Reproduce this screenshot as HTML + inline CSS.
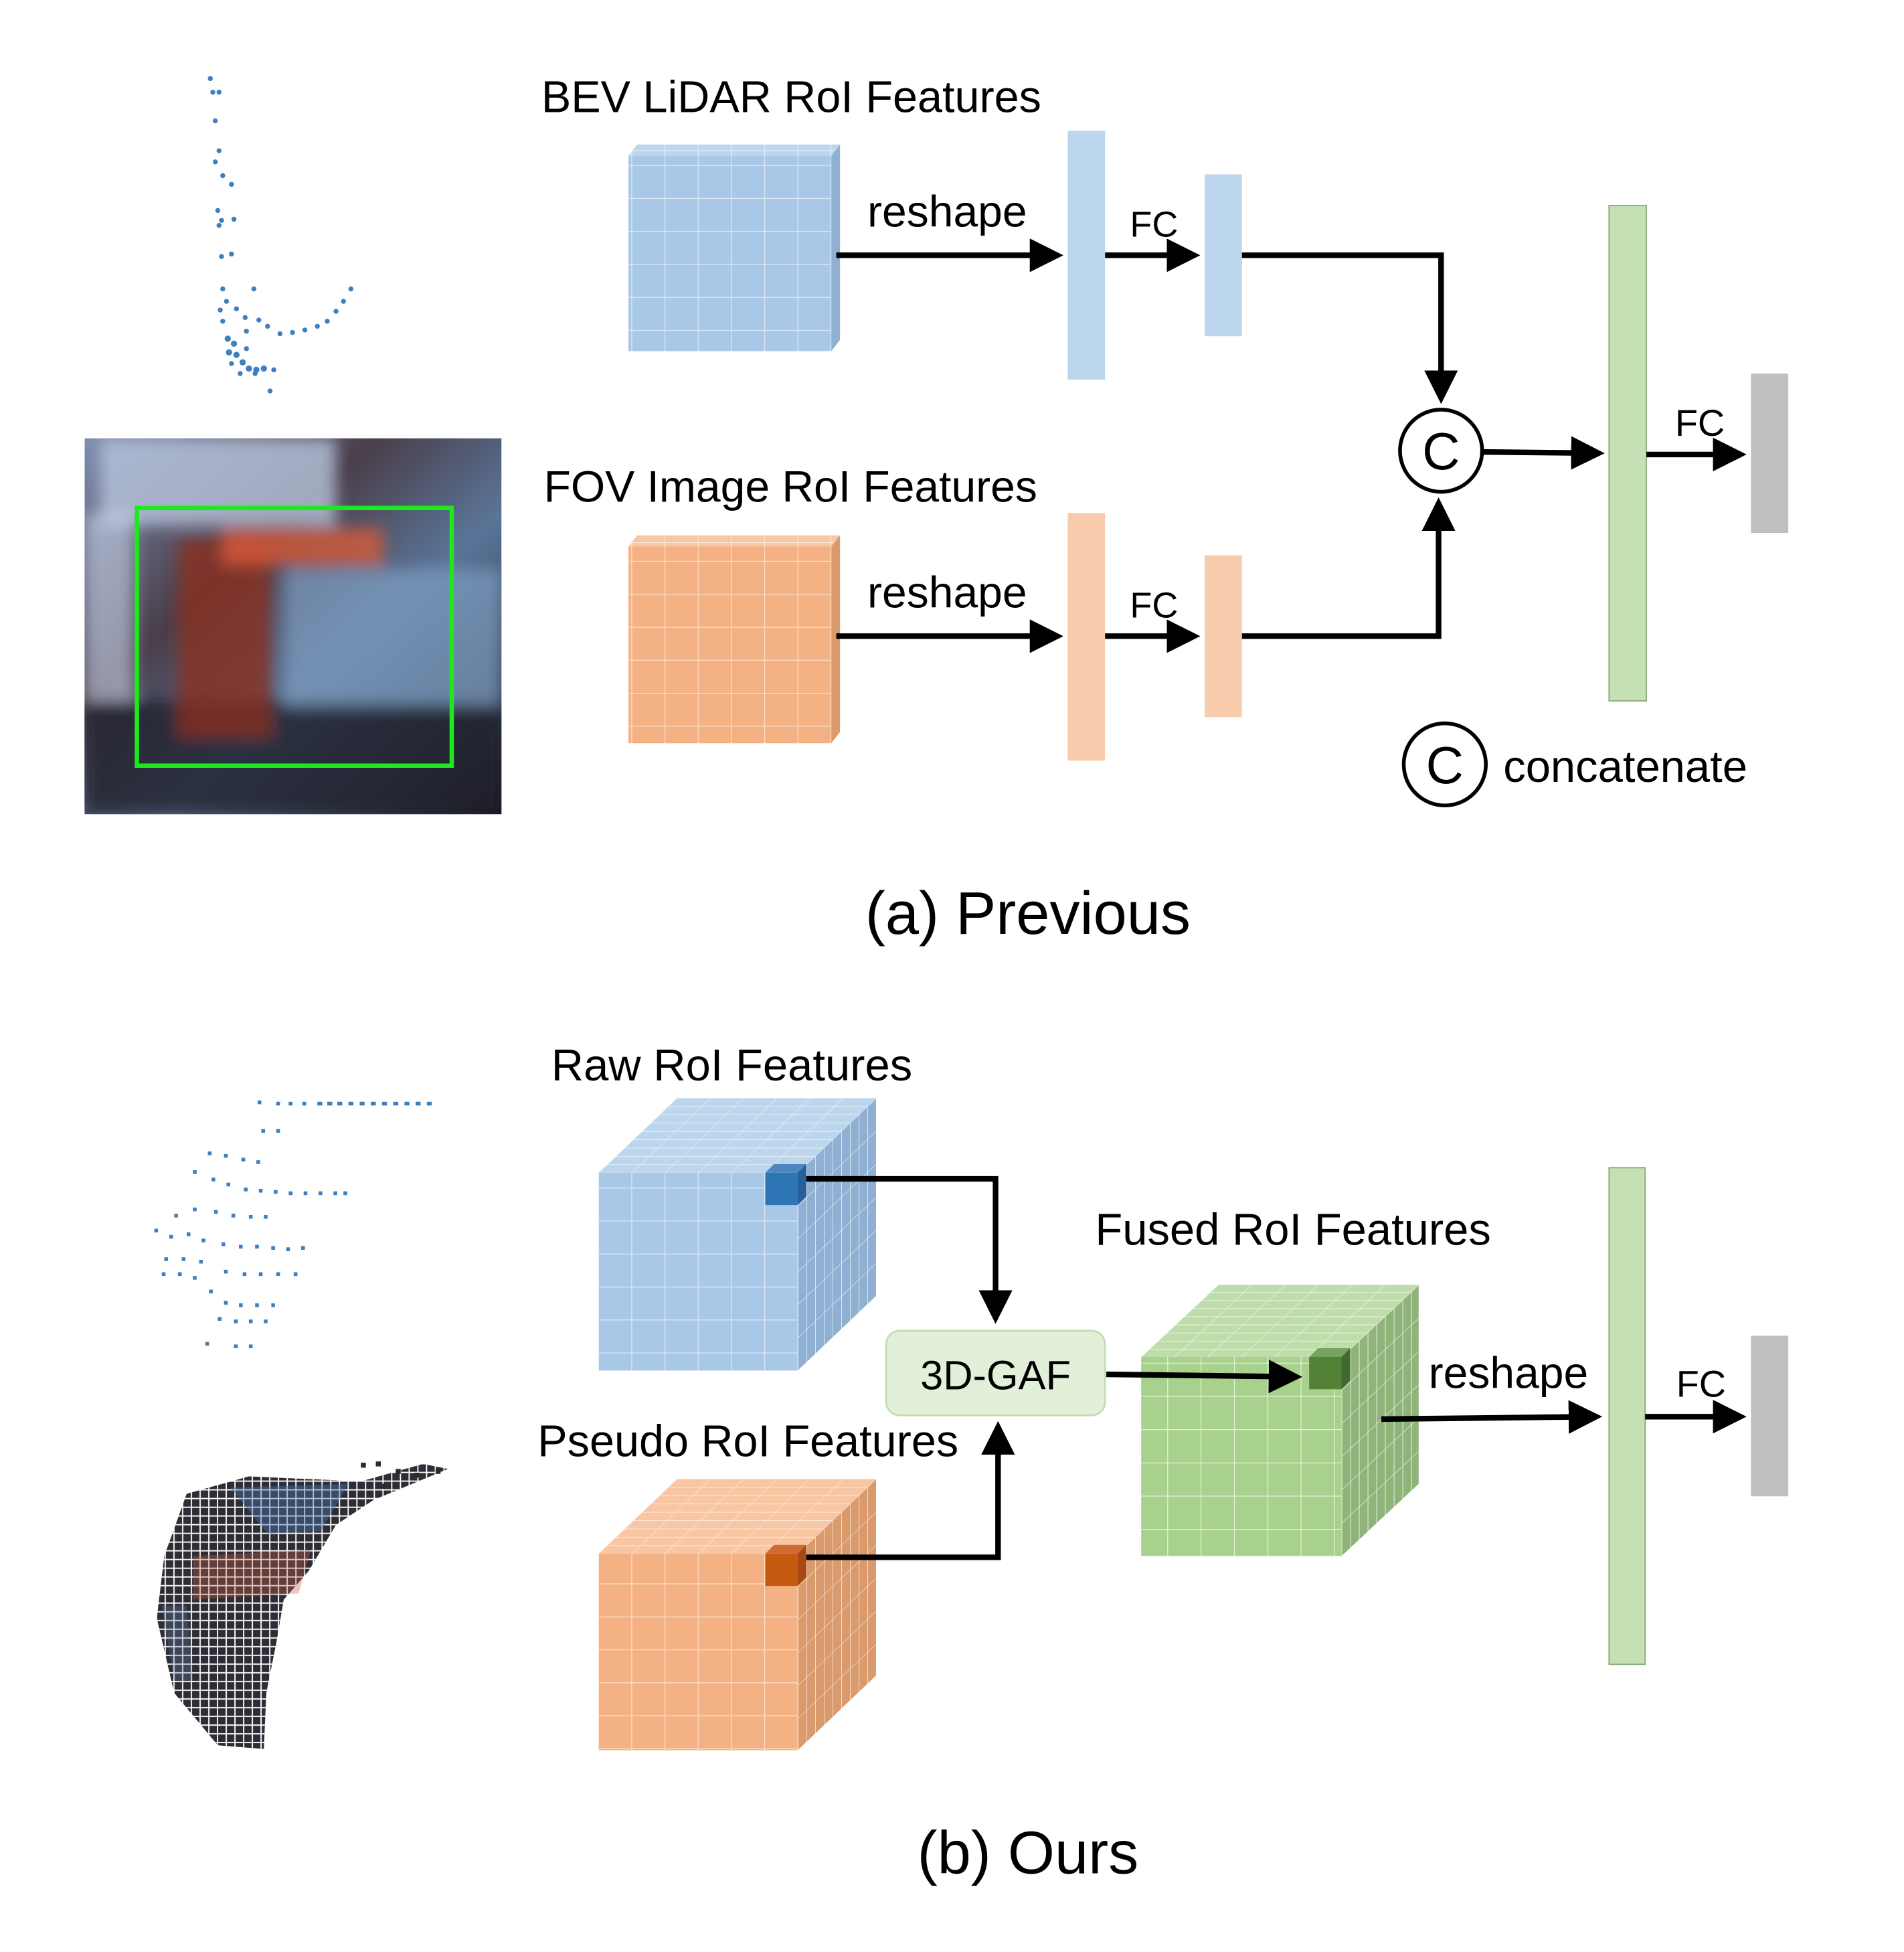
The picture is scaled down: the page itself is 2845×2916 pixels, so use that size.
<!DOCTYPE html>
<html><head><meta charset="utf-8"><style>
html,body{margin:0;padding:0;background:#fff}
svg{display:block}
text{font-family:"Liberation Sans",sans-serif;fill:#000}
</style></head><body>
<svg width="2845" height="2916" viewBox="0 0 1530 1568" xmlns="http://www.w3.org/2000/svg">
<defs>
<pattern id="gb" patternUnits="userSpaceOnUse" width="26.7" height="26.5"><rect width="26.7" height="26.5" fill="#a9c8e8"/><path d="M0 0H26.7M0 0V26.5" stroke="#dde9f6" stroke-width="1.3"/></pattern>
<pattern id="go" patternUnits="userSpaceOnUse" width="26.7" height="26.5"><rect width="26.7" height="26.5" fill="#f4b183"/><path d="M0 0H26.7M0 0V26.5" stroke="#fbe0cc" stroke-width="1.3"/></pattern>
<pattern id="gg" patternUnits="userSpaceOnUse" width="26.8" height="26.7"><rect width="26.8" height="26.7" fill="#a9d18e"/><path d="M0 0H26.8M0 0V26.7" stroke="#e4f2da" stroke-width="1.3"/></pattern>
<pattern id="sb" patternUnits="userSpaceOnUse" width="7" height="26.5"><rect width="7" height="26.5" fill="#8fb0d2"/><path d="M0 0H7M0 0V26.5" stroke="#d6e4f2" stroke-width="1.2"/></pattern>
<pattern id="so" patternUnits="userSpaceOnUse" width="7" height="26.5"><rect width="7" height="26.5" fill="#d99a6c"/><path d="M0 0H7M0 0V26.5" stroke="#f6d6c0" stroke-width="1.2"/></pattern>
<pattern id="sg" patternUnits="userSpaceOnUse" width="7" height="26.7"><rect width="7" height="26.7" fill="#8fb47a"/><path d="M0 0H7M0 0V26.7" stroke="#dcebd2" stroke-width="1.2"/></pattern>
<pattern id="tb" patternUnits="userSpaceOnUse" width="26.7" height="6.7"><rect width="26.7" height="6.7" fill="#bcd6ee"/><path d="M0 0H26.7M0 0V6.7" stroke="#e4eef8" stroke-width="1.2"/></pattern>
<pattern id="to" patternUnits="userSpaceOnUse" width="26.7" height="6.7"><rect width="26.7" height="6.7" fill="#f8c6a3"/><path d="M0 0H26.7M0 0V6.7" stroke="#fde6d6" stroke-width="1.2"/></pattern>
<pattern id="tg" patternUnits="userSpaceOnUse" width="26.8" height="6.5"><rect width="26.8" height="6.5" fill="#bfddab"/><path d="M0 0H26.8M0 0V6.5" stroke="#e8f3e0" stroke-width="1.2"/></pattern>
<pattern id="pc" patternUnits="userSpaceOnUse" width="7" height="7"><rect width="7" height="7" fill="#fff"/><rect x="0.3" y="0.3" width="6" height="6" fill="#2e2c34"/></pattern>
<marker id="ar" markerWidth="6" markerHeight="6" refX="5" refY="3" orient="auto" markerUnits="strokeWidth"><path d="M0,0 L6,3 L0,6 Z" fill="#000"/></marker>
<linearGradient id="car" x1="0" y1="0" x2="1" y2="1"><stop offset="0" stop-color="#7d8db0"/><stop offset="0.35" stop-color="#4a3e4a"/><stop offset="0.6" stop-color="#5a7598"/><stop offset="1" stop-color="#16161e"/></linearGradient>
<filter id="bl"><feGaussianBlur stdDeviation="6"/></filter>
</defs>

<g fill="#3d7fc0">
<circle cx="169" cy="63" r="2"/><circle cx="171" cy="74" r="2"/><circle cx="176" cy="74" r="2"/><circle cx="173" cy="97" r="2"/><circle cx="176" cy="121" r="2"/><circle cx="173" cy="130" r="2"/><circle cx="179" cy="141" r="2"/><circle cx="186" cy="148" r="2"/><circle cx="175" cy="169" r="2"/><circle cx="178" cy="177" r="2"/><circle cx="188" cy="176" r="2"/><circle cx="176" cy="181" r="2"/><circle cx="186" cy="204" r="2"/><circle cx="178" cy="206" r="2"/><circle cx="179" cy="232" r="2"/><circle cx="204" cy="232" r="2"/><circle cx="182" cy="242" r="2"/><circle cx="177" cy="249" r="2"/><circle cx="179" cy="258" r="2"/><circle cx="190" cy="248" r="2"/><circle cx="197" cy="255" r="2"/><circle cx="208" cy="257" r="2"/><circle cx="198" cy="266" r="2"/><circle cx="215" cy="262" r="2"/><circle cx="225" cy="268" r="2"/><circle cx="235" cy="267" r="2"/><circle cx="245" cy="265" r="2"/><circle cx="255" cy="262" r="2"/><circle cx="263" cy="258" r="2"/><circle cx="270" cy="250" r="2"/><circle cx="276" cy="242" r="2"/><circle cx="282" cy="232" r="2"/><circle cx="183" cy="272" r="2.5"/><circle cx="188" cy="276" r="2.5"/><circle cx="184" cy="283" r="2.5"/><circle cx="190" cy="285" r="2.5"/><circle cx="195" cy="291" r="2.5"/><circle cx="200" cy="296" r="2.5"/><circle cx="206" cy="297" r="2.5"/><circle cx="212" cy="296" r="2.5"/><circle cx="220" cy="297" r="2"/><circle cx="198" cy="280" r="2"/><circle cx="205" cy="300" r="2"/><circle cx="217" cy="314" r="2"/><circle cx="186" cy="292" r="2"/><circle cx="193" cy="300" r="2"/>
</g>

<svg x="68" y="352" width="335" height="302" viewBox="0 0 335 302">
<rect width="335" height="302" fill="url(#car)"/>
<g filter="url(#bl)">
<rect x="12" y="0" width="190" height="70" fill="#b8c4dc" opacity="0.8"/>
<rect x="0" y="210" width="335" height="92" fill="#1e1e2a" opacity="0.8"/>
<rect x="75" y="80" width="75" height="160" fill="#8a2e22" opacity="0.8"/>
<rect x="110" y="72" width="130" height="30" fill="#d65a3a" opacity="0.8"/>
<rect x="160" y="105" width="175" height="110" fill="#7d9cc0" opacity="0.7"/>
<rect x="0" y="60" width="40" height="150" fill="#c8d4ea" opacity="0.6"/>
</g>
</svg>
<rect x="110" y="408" width="253" height="207" fill="none" stroke="#1ee81e" stroke-width="3.5"/>

<text x="435" y="90" font-size="35.8">BEV LiDAR RoI Features</text>
<polygon points="505,125 512,116 675,116 668,125" fill="url(#tb)"/>
<polygon points="668,125 675,116 675,273 668,282" fill="#8fb0d2"/>
<rect x="505" y="125" width="163" height="157" fill="url(#gb)"/>
<line x1="672" y1="205" x2="850" y2="205" stroke="#000" stroke-width="4.5" marker-end="url(#ar)"/>
<text x="697" y="182" font-size="35.5">reshape</text>
<rect x="858" y="105" width="30" height="200" fill="#bcd6ee"/>
<line x1="888" y1="205" x2="960" y2="205" stroke="#000" stroke-width="4.5" marker-end="url(#ar)"/>
<text x="908" y="190" font-size="29">FC</text>
<rect x="968" y="140" width="30" height="130" fill="#bcd6ee"/>
<polyline points="998,205 1158,205 1158,320" fill="none" stroke="#000" stroke-width="4.5" marker-end="url(#ar)"/>

<text x="437" y="403" font-size="35.5">FOV Image RoI Features</text>
<polygon points="505,439 512,430 675,430 668,439" fill="url(#to)"/>
<polygon points="668,439 675,430 675,588 668,597" fill="#d99a6c"/>
<rect x="505" y="439" width="163" height="158" fill="url(#go)"/>
<line x1="672" y1="511" x2="850" y2="511" stroke="#000" stroke-width="4.5" marker-end="url(#ar)"/>
<text x="697" y="488" font-size="35.5">reshape</text>
<rect x="858" y="412" width="30" height="199" fill="#f8cbad"/>
<line x1="888" y1="511" x2="960" y2="511" stroke="#000" stroke-width="4.5" marker-end="url(#ar)"/>
<text x="908" y="496" font-size="29">FC</text>
<rect x="968" y="446" width="30" height="130" fill="#f8cbad"/>
<polyline points="998,511 1156,511 1156,404" fill="none" stroke="#000" stroke-width="4.5" marker-end="url(#ar)"/>

<circle cx="1158" cy="362" r="33" fill="#fff" stroke="#000" stroke-width="3"/>
<text x="1158" y="377" font-size="42" text-anchor="middle">C</text>
<line x1="1192" y1="363" x2="1285" y2="364" stroke="#000" stroke-width="4.5" marker-end="url(#ar)"/>
<rect x="1293" y="165" width="30" height="398" fill="#c5e0b4" stroke="#8aab78" stroke-width="1"/>
<line x1="1323" y1="365" x2="1399" y2="365" stroke="#000" stroke-width="4.5" marker-end="url(#ar)"/>
<text x="1346" y="350" font-size="30">FC</text>
<rect x="1407" y="300" width="30" height="128" fill="#bfbfbf"/>
<circle cx="1161" cy="614" r="33" fill="#fff" stroke="#000" stroke-width="3"/>
<text x="1161" y="629" font-size="42" text-anchor="middle">C</text>
<text x="1208" y="628" font-size="36">concatenate</text>
<text x="826" y="750" font-size="48.5" text-anchor="middle">(a) Previous</text>

<g fill="#3d7fc0">
<rect x="207" y="884" width="3" height="3"/><rect x="222" y="885" width="3" height="3"/><rect x="232" y="885" width="3" height="3"/><rect x="243" y="885" width="3" height="3"/><rect x="255" y="885" width="4" height="3"/><rect x="263" y="885" width="4" height="3"/><rect x="271" y="885" width="4" height="3"/><rect x="280" y="885" width="4" height="3"/><rect x="289" y="885" width="4" height="3"/><rect x="298" y="885" width="4" height="3"/><rect x="307" y="885" width="4" height="3"/><rect x="316" y="885" width="4" height="3"/><rect x="325" y="885" width="4" height="3"/><rect x="334" y="885" width="4" height="3"/><rect x="343" y="885" width="4" height="3"/>
<rect x="210" y="907" width="3" height="3"/><rect x="222" y="907" width="3" height="3"/><rect x="167" y="925" width="3" height="3"/><rect x="180" y="927" width="3" height="3"/><rect x="194" y="930" width="3" height="3"/><rect x="206" y="932" width="3" height="3"/>
<rect x="155" y="940" width="3" height="3"/><rect x="170" y="946" width="3" height="3"/><rect x="182" y="950" width="3" height="3"/><rect x="196" y="954" width="3" height="3"/><rect x="208" y="955" width="3" height="3"/><rect x="220" y="956" width="3" height="3"/><rect x="232" y="957" width="3" height="3"/><rect x="244" y="957" width="3" height="3"/><rect x="256" y="957" width="3" height="3"/><rect x="268" y="957" width="3" height="3"/><rect x="276" y="957" width="3" height="3"/>
<rect x="140" y="975" width="3" height="3"/><rect x="155" y="970" width="3" height="3"/><rect x="172" y="972" width="3" height="3"/><rect x="186" y="975" width="3" height="3"/><rect x="200" y="976" width="3" height="3"/><rect x="212" y="976" width="3" height="3"/>
<rect x="124" y="987" width="3" height="3"/><rect x="136" y="992" width="3" height="3"/><rect x="150" y="990" width="3" height="3"/><rect x="162" y="995" width="3" height="3"/><rect x="178" y="998" width="3" height="3"/><rect x="192" y="1000" width="3" height="3"/><rect x="205" y="1000" width="3" height="3"/><rect x="218" y="1001" width="3" height="3"/><rect x="230" y="1002" width="3" height="3"/><rect x="242" y="1001" width="3" height="3"/>
<rect x="132" y="1010" width="3" height="3"/><rect x="146" y="1010" width="3" height="3"/><rect x="160" y="1012" width="3" height="3"/><rect x="130" y="1022" width="3" height="3"/><rect x="143" y="1022" width="3" height="3"/><rect x="155" y="1025" width="3" height="3"/><rect x="180" y="1020" width="3" height="3"/><rect x="195" y="1022" width="3" height="3"/><rect x="208" y="1022" width="3" height="3"/><rect x="222" y="1022" width="3" height="3"/><rect x="236" y="1022" width="3" height="3"/>
<rect x="168" y="1036" width="3" height="3"/><rect x="180" y="1045" width="3" height="3"/><rect x="192" y="1047" width="3" height="3"/><rect x="205" y="1047" width="3" height="3"/><rect x="218" y="1047" width="3" height="3"/><rect x="175" y="1058" width="3" height="3"/><rect x="188" y="1060" width="3" height="3"/><rect x="200" y="1060" width="3" height="3"/><rect x="212" y="1060" width="3" height="3"/><rect x="165" y="1078" width="3" height="3"/><rect x="188" y="1080" width="3" height="3"/><rect x="200" y="1080" width="3" height="3"/>
</g>

<polygon points="150,1200 200,1186 290,1190 340,1176 360,1180 300,1205 270,1225 248,1262 228,1285 222,1320 214,1360 212,1405 175,1402 140,1360 126,1300 132,1250" fill="url(#pc)"/>
<polygon points="185,1195 280,1192 258,1230 215,1232" fill="#4a72a8" opacity="0.45"/>
<polygon points="155,1250 250,1245 240,1280 155,1285" fill="#c0604a" opacity="0.35"/>
<polygon points="130,1290 150,1290 155,1350 140,1350" fill="#6080a8" opacity="0.3"/>
<g fill="#2a2a30"><rect x="290" y="1175" width="4" height="4"/><rect x="302" y="1174" width="4" height="4"/><rect x="318" y="1180" width="4" height="4"/><rect x="333" y="1183" width="4" height="4"/><rect x="350" y="1180" width="4" height="4"/><rect x="305" y="1192" width="4" height="4"/></g>

<text x="443" y="868" font-size="36">Raw RoI Features</text>
<g transform="translate(481,942) skewX(-46.4)"><rect x="0" y="-60" width="160" height="60" fill="url(#tb)"/></g>
<g transform="translate(641,942) skewY(-43.6)"><rect x="0" y="0" width="63" height="159" fill="url(#sb)"/></g>
<rect x="481" y="942" width="160" height="159" fill="url(#gb)"/>
<polygon points="615,942 622,935 648,935 641,942" fill="#4d86c0"/>
<polygon points="641,942 648,935 648,961 641,968" fill="#285f98"/>
<rect x="615" y="942" width="26" height="26" fill="#2e75b6"/>
<polyline points="648,947 800,947 800,1059" fill="none" stroke="#000" stroke-width="4.5" marker-end="url(#ar)"/>

<text x="432" y="1170" font-size="35.8">Pseudo RoI Features</text>
<g transform="translate(481,1248) skewX(-46.4)"><rect x="0" y="-60" width="160" height="60" fill="url(#to)"/></g>
<g transform="translate(641,1248) skewY(-43.6)"><rect x="0" y="0" width="63" height="158" fill="url(#so)"/></g>
<rect x="481" y="1248" width="160" height="158" fill="url(#go)"/>
<polygon points="615,1248 622,1241 648,1241 641,1248" fill="#d06a34"/>
<polygon points="641,1248 648,1241 648,1267 641,1274" fill="#a84812"/>
<rect x="615" y="1248" width="26" height="26" fill="#c55a11"/>
<polyline points="648,1251 802,1251 802,1146" fill="none" stroke="#000" stroke-width="4.5" marker-end="url(#ar)"/>

<rect x="712" y="1069" width="176" height="68" rx="11" fill="#e2f0d9" stroke="#c5dcb4" stroke-width="1.5"/>
<text x="800" y="1116" font-size="33" text-anchor="middle">3D-GAF</text>

<text x="880" y="1000" font-size="36">Fused RoI Features</text>
<g transform="translate(917,1090) skewX(-46.9)"><rect x="0" y="-58" width="161" height="58" fill="url(#tg)"/></g>
<g transform="translate(1078,1090) skewY(-43.1)"><rect x="0" y="0" width="62" height="160" fill="url(#sg)"/></g>
<rect x="917" y="1090" width="161" height="160" fill="url(#gg)"/>
<polygon points="1052,1090 1059,1083 1085,1083 1078,1090" fill="#76a35e"/>
<polygon points="1078,1090 1085,1083 1085,1109 1078,1116" fill="#3f6b2e"/>
<rect x="1052" y="1090" width="26" height="26" fill="#538135"/>
<line x1="889" y1="1104" x2="1042" y2="1106" stroke="#000" stroke-width="4.5" marker-end="url(#ar)"/>
<text x="1148" y="1115" font-size="35.5">reshape</text>
<line x1="1110" y1="1140" x2="1283" y2="1138" stroke="#000" stroke-width="4.5" marker-end="url(#ar)"/>
<rect x="1293" y="938" width="29" height="399" fill="#c5e0b4" stroke="#8aab78" stroke-width="1"/>
<line x1="1322" y1="1138" x2="1399" y2="1138" stroke="#000" stroke-width="4.5" marker-end="url(#ar)"/>
<text x="1347" y="1122" font-size="30">FC</text>
<rect x="1407" y="1073" width="30" height="129" fill="#bfbfbf"/>
<text x="826" y="1505" font-size="48.5" text-anchor="middle">(b) Ours</text>
</svg>
</body></html>
